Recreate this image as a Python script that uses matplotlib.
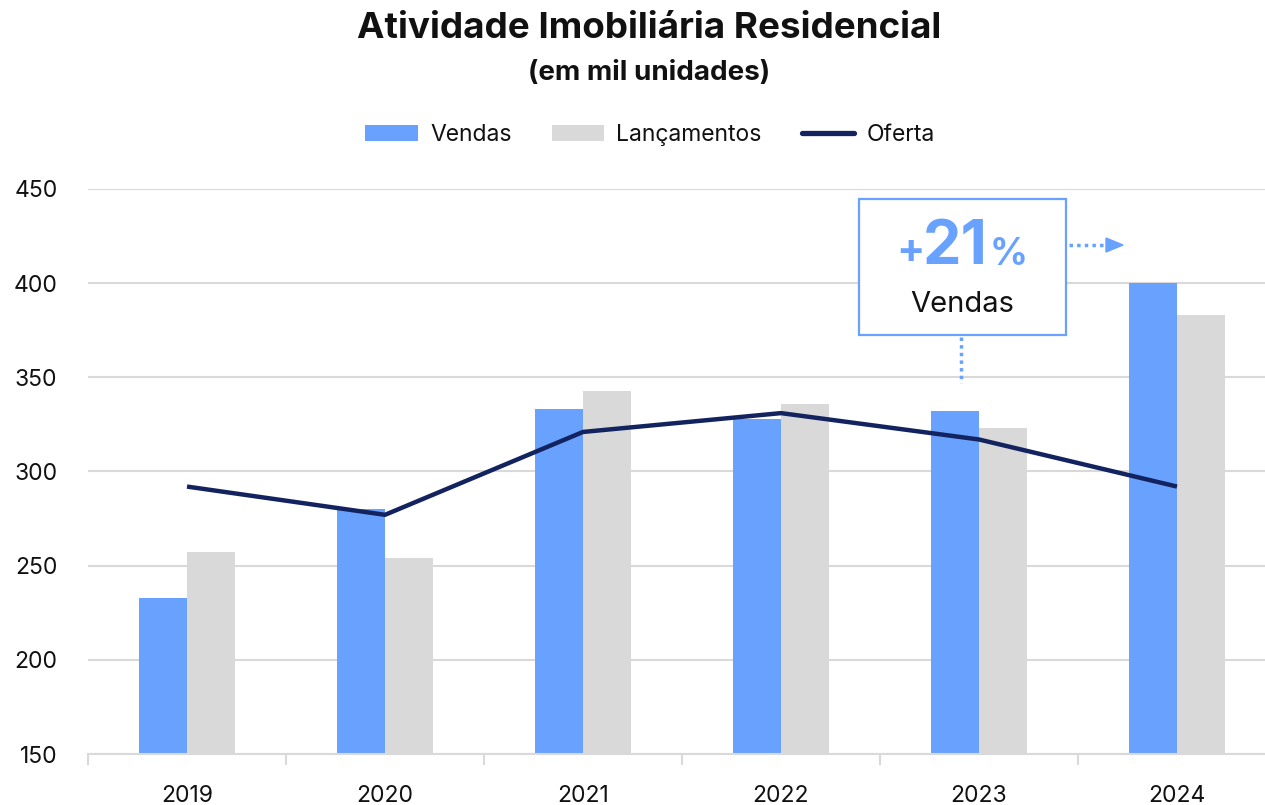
import matplotlib
matplotlib.use("Agg")
import matplotlib.pyplot as plt
import numpy as np
from matplotlib.patches import Patch, Rectangle
from matplotlib.lines import Line2D

plt.rcParams['font.family'] = ['Inter', 'DejaVu Sans']

years = ['2019', '2020', '2021', '2022', '2023', '2024']
vendas = [233, 280, 333, 328, 332, 400]
lancamentos = [257, 254, 343, 336, 323, 383]
oferta = [292, 277, 321, 331, 317, 292]
yticks = [150, 200, 250, 300, 350, 400, 450]

C_BLUE = '#69A1FF'
C_GREY = '#D9D9D9'
C_NAVY = '#13235F'
C_GRID = '#D9D9D9'

W, H = 1265, 805
fig = plt.figure(figsize=(W / 100, H / 100), dpi=100)

def fx(x):
    return x / W

def fy(y):
    return 1 - y / H

# axes: left 88, right 1276, bottom 754, top 189 (450)
ax = fig.add_axes([fx(88), fy(754), fx(1276) - fx(88), fy(189) - fy(754)])
x = np.arange(len(years))
bw = 0.24
ax.bar(x - bw / 2, [v - 150 for v in vendas], bw, bottom=150, color=C_BLUE, zorder=2)
ax.bar(x + bw / 2, [v - 150 for v in lancamentos], bw, bottom=150, color=C_GREY, zorder=2)
ax.plot(x, oferta, color=C_NAVY, lw=3.2, zorder=3, solid_capstyle='butt')

ax.set_xlim(-0.5, 5.5)
ax.set_ylim(150, 450)
ax.set_yticks(yticks)
ax.set_yticklabels([str(t) for t in yticks])
ax.set_xticks(x)
ax.set_xticklabels(years)
ax.set_xticks(np.arange(-0.5, 6.0, 1.0), minor=True)
ax.tick_params(axis='x', which='major', length=0, pad=22, labelsize=16.5, labelcolor='#111111')
ax.tick_params(axis='x', which='minor', length=8, width=1.5, color=C_GRID, direction='out')
ax.tick_params(axis='y', length=0, pad=22, labelsize=16.5, labelcolor='#111111')
for s in ['left', 'right', 'top']:
    ax.spines[s].set_visible(False)
ax.spines['bottom'].set_color(C_GRID)
ax.spines['bottom'].set_linewidth(1.5)
ax.yaxis.grid(True, color=C_GRID, lw=1.5, zorder=0)
ax.set_axisbelow(True)

# titles
fig.text(fx(649), fy(28), 'Atividade Imobiliária Residencial', ha='center', va='center',
         fontsize=26.5, fontweight='bold', color='#111111')
fig.text(fx(649), fy(73), '(em mil unidades)', ha='center', va='center',
         fontsize=20, fontweight='bold', color='#111111')

# legend
handles = [Patch(facecolor=C_BLUE, edgecolor='none'),
           Patch(facecolor=C_GREY, edgecolor='none'),
           Line2D([0], [0], color=C_NAVY, lw=3.8, solid_capstyle='round')]
fig.legend(handles, ['Vendas', 'Lançamentos', 'Oferta'], loc='center',
           bbox_to_anchor=(fx(650), fy(135)), ncol=3, frameon=False,
           fontsize=16.5, handlelength=2.3, handleheight=0.65, handletextpad=0.52,
           columnspacing=1.75, labelcolor='#111111')

# annotation box
box = Rectangle((fx(859), fy(335)), fx(1066) - fx(859), fy(199) - fy(335),
                transform=fig.transFigure, facecolor='white', edgecolor=C_BLUE,
                lw=1.6, zorder=5)
fig.add_artist(box)
fig.text(fx(910), fy(252), '+', ha='center', va='center', fontsize=30,
         fontweight='bold', color=C_BLUE, zorder=6)
fig.text(fx(955), fy(248), '21', ha='center', va='center', fontsize=44,
         fontweight='bold', color=C_BLUE, zorder=6)
fig.text(fx(1009), fy(255), '%', ha='center', va='center', fontsize=27,
         fontweight='bold', color=C_BLUE, zorder=6)
fig.text(fx(962), fy(304), 'Vendas', ha='center', va='center', fontsize=21,
         color='#111111', zorder=6)

# dotted vertical connector
fig.add_artist(Line2D([fx(961), fx(961)], [fy(337), fy(383)], transform=fig.transFigure,
                      color=C_BLUE, lw=2.5, linestyle=(0, (1, 1.2)), zorder=5))
# dotted horizontal arrow
fig.add_artist(Line2D([fx(1069), fx(1107)], [fy(245), fy(245)], transform=fig.transFigure,
                      color=C_BLUE, lw=2.5, linestyle=(0, (1, 1.2)), zorder=5))
fig.add_artist(plt.Polygon([[fx(1106), fy(238)], [fx(1123), fy(245)], [fx(1106), fy(252)]],
                           closed=True, transform=fig.transFigure, color=C_BLUE, zorder=5))

fig.savefig('out.png', dpi=100)
